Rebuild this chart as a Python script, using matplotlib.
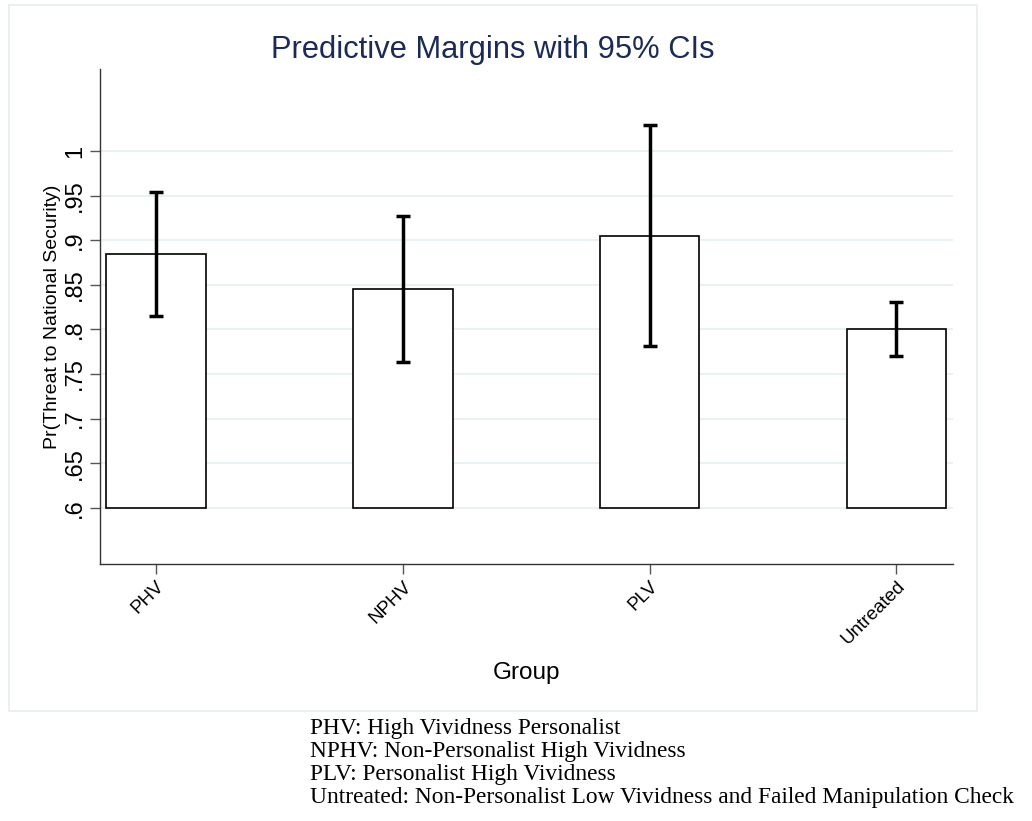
import numpy as np
import matplotlib
matplotlib.use("Agg")
import matplotlib.pyplot as plt
from matplotlib.patches import Rectangle

groups = ["PHV", "NPHV", "PLV", "Untreated"]
margins = [0.885, 0.845, 0.905, 0.800]
ci_low = [0.815, 0.763, 0.781, 0.770]
ci_high = [0.954, 0.927, 1.029, 0.831]
yticks = [0.6, 0.65, 0.7, 0.75, 0.8, 0.85, 0.9, 0.95, 1.0]
ytick_labels = [".6", ".65", ".7", ".75", ".8", ".85", ".9", ".95", "1"]
notes = [
    "PHV: High Vividness Personalist",
    "NPHV: Non-Personalist High Vividness",
    "PLV: Personalist High Vividness",
    "Untreated: Non-Personalist Low Vividness and Failed Manipulation Check",
]

plt.rcParams["font.family"] = ["Liberation Sans", "DejaVu Sans"]

fig = plt.figure(figsize=(10.32, 8.21), dpi=100)
W, H = 1032, 821

# outer graph region with faint border
fig.patches.append(Rectangle((9 / W, 1 - 711 / H), (977 - 9) / W, (711 - 5) / H,
                             transform=fig.transFigure, facecolor="white",
                             edgecolor="#e6eef0", linewidth=1.2, zorder=-10))

ax = fig.add_axes([100 / W, 1 - 564 / H, (953 - 100) / W, (564 - 69) / H])
ax.set_facecolor("none")

x = np.arange(len(groups))
base = 0.6
heights = [m - base for m in margins]
ax.bar(x, heights, bottom=base, width=0.403, facecolor="white",
       edgecolor="black", linewidth=1.2, zorder=2)

err = [np.array(margins) - np.array(ci_low), np.array(ci_high) - np.array(margins)]
ax.errorbar(x, margins, yerr=err, fmt="none", ecolor="black", elinewidth=2.5,
            capsize=4.8, capthick=2.5, zorder=3)

ax.set_xlim(-0.227, 3.229)
ax.set_ylim(0.5369, 1.0919)
ax.set_yticks(yticks)
ax.set_yticklabels(ytick_labels, rotation=90, va="center", fontsize=17)
ax.set_xticks(x)
ax.set_xticklabels(groups, rotation=45, ha="right", rotation_mode="anchor",
                   fontsize=13.5)

ax.grid(axis="y", color="#eaf1f3", linewidth=1.5, zorder=0)
ax.set_axisbelow(True)
for side in ["top", "right"]:
    ax.spines[side].set_visible(False)
for side in ["left", "bottom"]:
    ax.spines[side].set_color("#333333")
    ax.spines[side].set_linewidth(1.0)
ax.tick_params(axis="both", length=7, width=1.0, color="#555555", pad=3)

ax.set_ylabel("Pr(Threat to National Security)", fontsize=14, labelpad=2)
ax.set_xlabel("Group", fontsize=17.5, labelpad=10)

fig.text(493 / W, 1 - 58 / H, "Predictive Margins with 95% CIs",
         ha="center", va="baseline", fontsize=22.2, color="#1c2b55")

for i, line in enumerate(notes):
    fig.text(310 / W, 1 - (734 + 23 * i) / H, line, ha="left", va="baseline",
             fontsize=16.8, family=["Liberation Serif", "DejaVu Serif"])

fig.savefig("out.png", dpi=100, facecolor="white")
